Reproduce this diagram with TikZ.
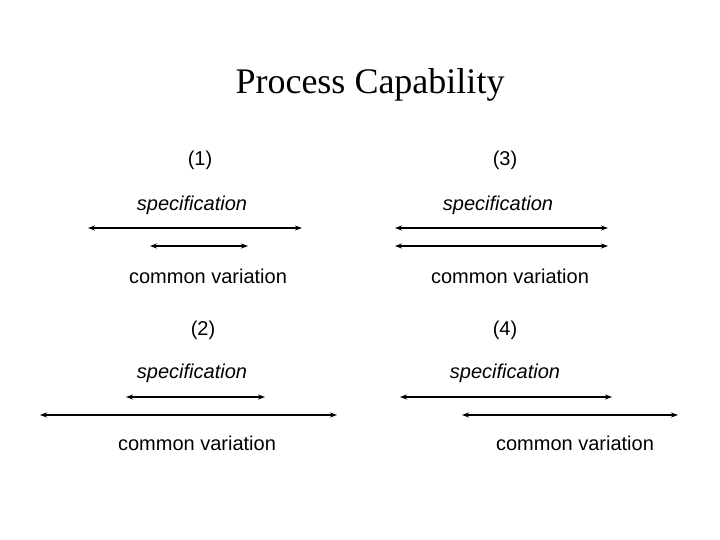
\documentclass[tikz,border=0pt]{standalone}
\usepackage{fontspec}
\setmainfont{Liberation Sans}
\newfontfamily\serif{Liberation Serif}
\usetikzlibrary{arrows.meta}
\begin{document}
\begin{tikzpicture}[x=1pt,y=-1pt,
  lbl/.style={font=\fontsize{20}{24}\selectfont},
  spec/.style={font=\fontsize{20}{24}\selectfont\itshape},
  dbl/.style={{Stealth[length=7pt,width=5pt]}-{Stealth[length=7pt,width=5pt]}, line width=1.2pt}]
\useasboundingbox (0,0) rectangle (720,540);
\node[font=\fontsize{36}{40}\selectfont\serif] (t) at (370,85) {Process Capability};
% (1)
\node[lbl] (n1) at (200,160) {(1)};
\node[spec] (s1) at (192,205) {specification};
\coordinate (a1l) at (88,228); \coordinate (a1r) at (302,228);
\coordinate (b1l) at (150,246); \coordinate (b1r) at (248,246);
\draw[dbl] (a1l) -- (a1r); \draw[dbl] (b1l) -- (b1r);
\node[lbl] (c1) at (208,276) {common variation};
% (3)
\node[lbl] (n3) at (505,160) {(3)};
\node[spec] (s3) at (498,205) {specification};
\coordinate (a3l) at (395,228); \coordinate (a3r) at (608,228);
\coordinate (b3l) at (395,246); \coordinate (b3r) at (608,246);
\draw[dbl] (a3l) -- (a3r); \draw[dbl] (b3l) -- (b3r);
\node[lbl] (c3) at (510,276) {common variation};
% (2)
\node[lbl] (n2) at (203,330) {(2)};
\node[spec] (s2) at (192,373) {specification};
\coordinate (a2l) at (126,397); \coordinate (a2r) at (265,397);
\coordinate (b2l) at (40,415); \coordinate (b2r) at (337,415);
\draw[dbl] (a2l) -- (a2r); \draw[dbl] (b2l) -- (b2r);
\node[lbl] (c2) at (197,443) {common variation};
% (4)
\node[lbl] (n4) at (505,330) {(4)};
\node[spec] (s4) at (505,373) {specification};
\coordinate (a4l) at (400,397); \coordinate (a4r) at (612,397);
\coordinate (b4l) at (462,415); \coordinate (b4r) at (678,415);
\draw[dbl] (a4l) -- (a4r); \draw[dbl] (b4l) -- (b4r);
\node[lbl] (c4) at (575,443) {common variation};
\end{tikzpicture}
\end{document}
